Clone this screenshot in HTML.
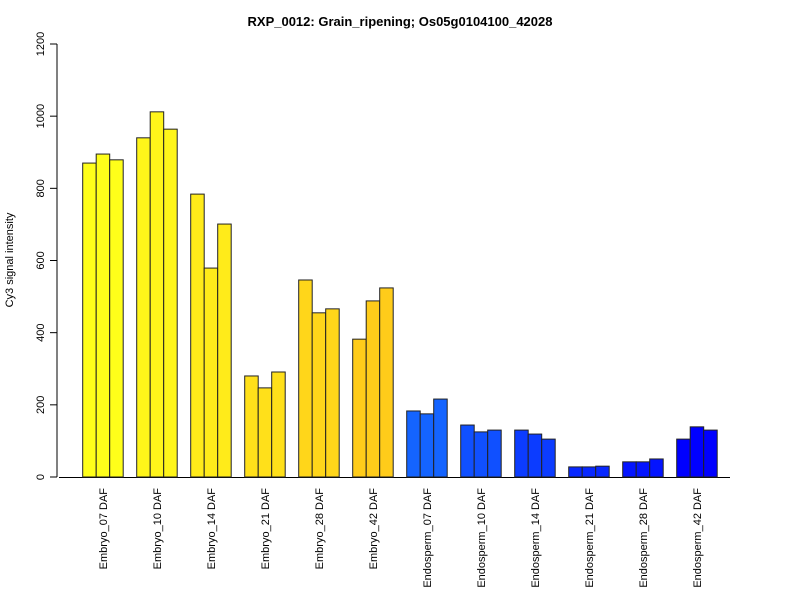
<!DOCTYPE html>
<html><head><meta charset="utf-8"><style>
body{margin:0;background:#fff}
svg text{font-family:"Liberation Sans",Arial,sans-serif;fill:#000}
</style></head><body>
<svg id="chart" width="800" height="600" xmlns="http://www.w3.org/2000/svg">
<text x="400" y="26" text-anchor="middle" font-size="13" font-weight="bold">RXP_0012: Grain_ripening; Os05g0104100_42028</text>
<text transform="translate(13,260) rotate(-90)" text-anchor="middle" font-size="11">Cy3 signal intensity</text>
<g id="axes"></g><g id="bars"></g>
</svg>
<script>
const categories=["Embryo_07 DAF","Embryo_10 DAF","Embryo_14 DAF","Embryo_21 DAF","Embryo_28 DAF","Embryo_42 DAF","Endosperm_07 DAF","Endosperm_10 DAF","Endosperm_14 DAF","Endosperm_21 DAF","Endosperm_28 DAF","Endosperm_42 DAF"];
const rep1=[870,940,784,280,546,382,183,144,130,28,42,105];
const rep2=[895,1012,579,247,455,488,175,125,119,28,42,139];
const rep3=[879,964,701,291,466,524,216,130,105,30,50,130];
const colors=["#ffff1a","#fff51a","#ffeb1a","#ffe01a","#ffd61a","#ffcc1a","#1464ff","#1050ff","#0c3cff","#0828ff","#0414ff","#0000ff"];
const yTicks=[0,200,400,600,800,1000,1200];
const NS="http://www.w3.org/2000/svg";
const y=v=>477-v*(433/1200);
const bw=13.5, gx=i=>82.7+i*54;
function mk(t,a,p){const e=document.createElementNS(NS,t);for(const k in a)e.setAttribute(k,a[k]);p.appendChild(e);return e;}
const ax=document.getElementById('axes'), bg=document.getElementById('bars');
const ya=mk('line',{x1:57,x2:57,y1:y(0),y2:y(1200),stroke:'#000'},ax);


const xa=mk('line',{x1:59,x2:730,y1:477.5,y2:477.5,stroke:'#000'},ax);


yTicks.forEach(v=>{
 const l=mk('line',{x1:50,x2:57,y1:y(v),y2:y(v),stroke:'#000'},ax);
 
 
 const t=mk('text',{transform:`translate(44,${y(v)}) rotate(-90)`,'text-anchor':'middle','font-size':11},ax);
 t.textContent=v;
 
 
});
const series=[rep1,rep2,rep3];
categories.forEach((c,i)=>{
 series.forEach((s,j)=>{
  const r=mk('rect',{x:gx(i)+j*bw,y:y(s[i]),width:bw,height:y(0)-y(s[i]),fill:colors[i],stroke:'#222','stroke-width':1},bg);
  
  
 });
 const t=mk('text',{transform:`translate(${gx(i)+bw*1.5+4},488) rotate(-90)`,'text-anchor':'end','font-size':11},ax);
 t.textContent=c;
 
 
});
</script>
</body></html>
